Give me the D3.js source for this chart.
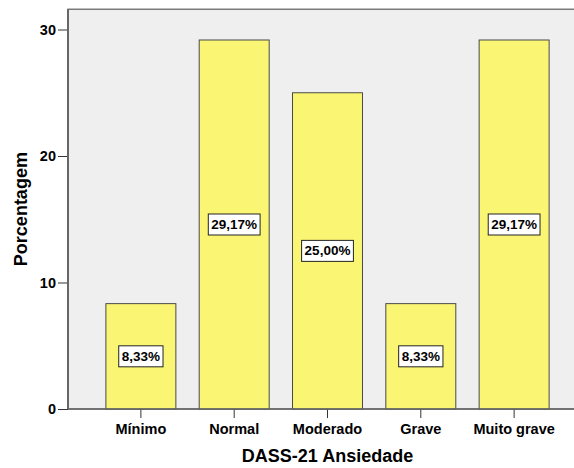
<!DOCTYPE html>
<html>
<head>
<meta charset="utf-8">
<script src="https://cdn.jsdelivr.net/npm/d3@7"></script>
<style>
  html, body { margin: 0; padding: 0; background: #ffffff; }
  svg { display: block; font-family: "Liberation Sans", Arial, sans-serif; }
</style>
</head>
<body>
<svg id="chart" width="574" height="468"></svg>
<script>
// Distribuição dos níveis de ansiedade (DASS-21)
const categories = ["Mínimo", "Normal", "Moderado", "Grave", "Muito grave"];
const percentages = [8.33, 29.17, 25.00, 8.33, 29.17];
const yTicks = [0, 10, 20, 30];
const yMax = 31.6;
const xTitle = "DASS-21 Ansiedade";
const yTitle = "Porcentagem";

const fmt = v => v.toFixed(2).replace(".", ",") + "%";

const svg = d3.select("#chart");

const plot = { left: 68, right: 587, top: 9.5, bottom: 409 };

const x = d3.scaleBand()
  .domain(categories)
  .range([plot.left, plot.right])
  .paddingInner(0.25)
  .paddingOuter(0.406);

const y = d3.scaleLinear()
  .domain([0, 30])
  .range([plot.bottom, 29.5]);

// plot background
svg.append("rect")
  .attr("x", plot.left)
  .attr("y", y(yMax))
  .attr("width", plot.right - plot.left)
  .attr("height", y(0) - y(yMax))
  .attr("fill", "#efefef")
  .attr("stroke", "#7a7a7a")
  .attr("stroke-width", 1.5);

// bars
svg.append("g")
  .selectAll("rect")
  .data(percentages)
  .join("rect")
  .attr("x", (d, i) => x(categories[i]))
  .attr("y", d => y(d))
  .attr("width", x.bandwidth())
  .attr("height", d => y(0) - y(d))
  .attr("fill", "#faf673")
  .attr("stroke", "#4a4a4a")
  .attr("stroke-width", 1);

// value labels in the middle of each bar
const labels = svg.append("g")
  .selectAll("g")
  .data(percentages)
  .join("g")
  .attr("transform", (d, i) => `translate(${x(categories[i]) + x.bandwidth() / 2},${(y(d) + y(0)) / 2})`);

labels.append("text")
  .attr("text-anchor", "middle")
  .attr("dominant-baseline", "central")
  .attr("font-size", "13.5px")
  .attr("font-weight", "bold")
  .attr("fill", "#000")
  .text(d => fmt(d))
  .each(function () {
    const b = this.getBBox();
    d3.select(this.parentNode).insert("rect", "text")
      .attr("x", b.x - 3)
      .attr("y", -10.5)
      .attr("width", b.width + 6)
      .attr("height", 21)
      .attr("fill", "#ffffff")
      .attr("stroke", "#222")
      .attr("stroke-width", 1);
  });

// axes
const yAxis = d3.axisLeft(y).tickValues(yTicks).tickSize(10).tickPadding(2).tickSizeOuter(0);
const gy = svg.append("g")
  .attr("transform", `translate(${plot.left},0)`)
  .call(yAxis);
gy.select(".domain").remove();
gy.selectAll("line").attr("stroke", "#333").attr("stroke-width", 1);
gy.selectAll("text")
  .attr("font-size", "14.5px")
  .attr("font-weight", "bold")
  .attr("font-family", "'Liberation Sans', Arial, sans-serif")
  .attr("fill", "#000");

const xAxis = d3.axisBottom(x).tickSize(9).tickPadding(6).tickSizeOuter(0);
const gx = svg.append("g")
  .attr("transform", `translate(0,${plot.bottom})`)
  .call(xAxis);
gx.select(".domain").remove();
gx.selectAll("line").attr("stroke", "#333").attr("stroke-width", 1);
gx.selectAll("text")
  .attr("font-size", "14.5px")
  .attr("font-weight", "bold")
  .attr("font-family", "'Liberation Sans', Arial, sans-serif")
  .attr("fill", "#000");

// left frame edge drawn over the tick roots
svg.append("line")
  .attr("x1", plot.left).attr("x2", plot.left)
  .attr("y1", y(yMax)).attr("y2", plot.bottom)
  .attr("stroke", "#666").attr("stroke-width", 2);
svg.append("line")
  .attr("x1", plot.left).attr("x2", plot.right)
  .attr("y1", plot.bottom).attr("y2", plot.bottom)
  .attr("stroke", "#666").attr("stroke-width", 1.5);

// axis titles
svg.append("text")
  .attr("x", x("Moderado") + x.bandwidth() / 2)
  .attr("y", 462)
  .attr("text-anchor", "middle")
  .attr("font-size", "18px")
  .attr("font-weight", "bold")
  .text(xTitle);

svg.append("text")
  .attr("transform", `translate(27,${(y(yMax) + plot.bottom) / 2}) rotate(-90)`)
  .attr("text-anchor", "middle")
  .attr("font-size", "18px")
  .attr("font-weight", "bold")
  .text(yTitle);
</script>
</body>
</html>
